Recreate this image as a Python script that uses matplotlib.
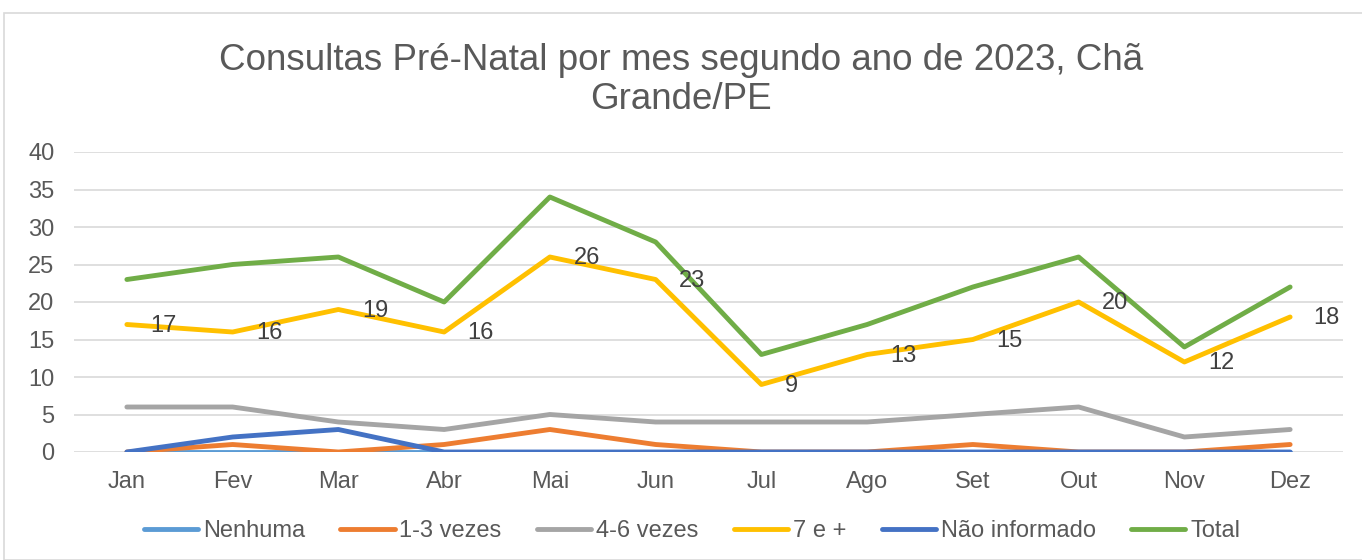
import matplotlib.pyplot as plt
from matplotlib.patches import Rectangle

plt.rcParams['font.family'] = ['Liberation Sans', 'DejaVu Sans']

months = ['Jan', 'Fev', 'Mar', 'Abr', 'Mai', 'Jun', 'Jul', 'Ago', 'Set', 'Out', 'Nov', 'Dez']
nenhuma = [0, 0, 0, 0, 0, 0, 0, 0, 0, 0, 0, 0]
vezes_1_3 = [0, 1, 0, 1, 3, 1, 0, 0, 1, 0, 0, 1]
vezes_4_6 = [6, 6, 4, 3, 5, 4, 4, 4, 5, 6, 2, 3]
sete_mais = [17, 16, 19, 16, 26, 23, 9, 13, 15, 20, 12, 18]
nao_informado = [0, 2, 3, 0, 0, 0, 0, 0, 0, 0, 0, 0]
total = [23, 25, 26, 20, 34, 28, 13, 17, 22, 26, 14, 22]

series = [
    ('Nenhuma', nenhuma, '#5B9BD5'),
    ('1-3 vezes', vezes_1_3, '#ED7D31'),
    ('4-6 vezes', vezes_4_6, '#A5A5A5'),
    ('7 e +', sete_mais, '#FFC000'),
    ('Não informado', nao_informado, '#4472C4'),
    ('Total', total, '#70AD47'),
]

text_color = '#595959'

fig = plt.figure(figsize=(13.62, 5.6), dpi=100)
fig.patches.append(Rectangle((4 / 1362, 0), 1.0, 1 - 13 / 560, transform=fig.transFigure,
                             fill=False, edgecolor='#D9D9D9', lw=1.2))
ax = fig.add_axes([74 / 1362, 1 - 452 / 560, (1343 - 74) / 1362, 300 / 560])

x = list(range(len(months)))
for name, vals, color in series:
    ax.plot(x, vals, color=color, lw=3.5, label=name, solid_capstyle='round',
            solid_joinstyle='round')

for xi, v in zip(x, sete_mais):
    ax.annotate(str(v), (xi, v), xytext=(17, -1), textcoords='offset points',
                ha='left', va='center', fontsize=17, color='#404040')

ax.set_xlim(-0.5, len(months) - 0.5)
ax.set_ylim(0, 40)
ax.set_yticks(range(0, 41, 5))
ax.set_xticks(x)
ax.set_xticklabels(months)
ax.grid(axis='y', color='#D9D9D9', lw=1.2)
ax.set_axisbelow(True)
for s in ax.spines.values():
    s.set_visible(False)
ax.tick_params(length=0, labelsize=17, labelcolor=text_color)
ax.tick_params(axis='x', pad=14)
ax.tick_params(axis='y', pad=14)

fig.text(0.5, 1 - 80 / 560, 'Consultas Pré-Natal por mes segundo ano de 2023, Chã\nGrande/PE',
         ha='center', va='center', fontsize=26.5, color=text_color, linespacing=1.17)

fig.legend(loc='center', bbox_to_anchor=(0.508, 1 - 531 / 560), ncol=6, frameon=False,
           fontsize=17, handlelength=2.3, handletextpad=0.2, columnspacing=1.5,
           labelcolor=text_color)

fig.savefig('out.png', dpi=100)
